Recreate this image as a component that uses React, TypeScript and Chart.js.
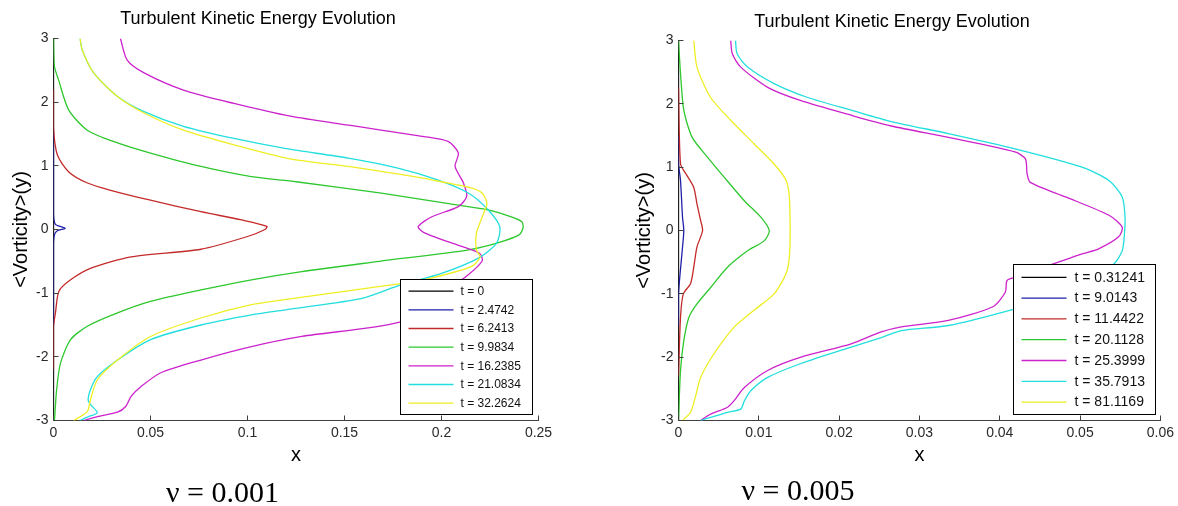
import React, { useEffect, useRef } from 'react';
import { Chart, registerables } from 'chart.js';

Chart.register(...registerables);
Chart.defaults.font.family = "'Liberation Sans', Arial, Helvetica, sans-serif";

type P = [number, number]; // [y, x]

// ---------- nu = 0.001 ----------
const nu001Times = ['0', '2.4742', '6.2413', '9.9834', '16.2385', '21.0834', '32.2624'];

const nu001_t0: P[] = [[3, 0], [-3, 0]];
const nu001_t2: P[] = [[1.5, 0], [0.25, 0], [0.08, 0.001], [0.02, 0.006], [-0.02, 0.002], [-0.08, 0.0005], [-0.25, 0], [-1.5, 0]];
const nu001_t6: P[] = [
  [2.2, 0], [1.6, 0], [1.17, 0.002], [0.9, 0.008], [0.73, 0.0175], [0.62, 0.029], [0.46, 0.05],
  [0.28, 0.076], [0.15, 0.097], [0.05, 0.11], [0, 0.109], [-0.11, 0.1], [-0.31, 0.076], [-0.43, 0.04],
  [-0.61, 0.019], [-0.79, 0.0088], [-0.97, 0.0028], [-1.31, 0.001], [-1.52, 0], [-2.2, 0],
];
const nu001_t9: P[] = [
  [3, 0], [2.56, 0.0005], [2.35, 0.0026], [1.88, 0.0078], [1.56, 0.0174], [1.36, 0.033], [1.2, 0.05],
  [0.99, 0.076], [0.83, 0.102], [0.75, 0.125], [0.57, 0.169], [0.39, 0.207], [0.31, 0.224], [0.2, 0.236],
  [0.12, 0.2415], [0.02, 0.242], [-0.085, 0.24], [-0.21, 0.229], [-0.32, 0.214], [-0.5, 0.168],
  [-0.66, 0.128], [-0.79, 0.102], [-0.95, 0.076], [-1.13, 0.05], [-1.31, 0.033], [-1.52, 0.0174],
  [-1.73, 0.0088], [-2.1, 0.0036], [-2.52, 0.0016], [-3, 0.0005],
];
const nu001_t16: P[] = [
  [3, 0.0345], [2.66, 0.038], [2.46, 0.0467], [2.19, 0.067], [1.98, 0.093], [1.78, 0.122], [1.64, 0.152],
  [1.46, 0.191], [1.38, 0.2036], [1.2, 0.2087], [0.99, 0.207], [0.73, 0.2113], [0.52, 0.213], [0.36, 0.2087],
  [0.2, 0.195], [0.045, 0.188], [-0.05, 0.191], [-0.2, 0.204], [-0.37, 0.2195], [-0.49, 0.221],
  [-0.73, 0.213], [-1.1, 0.196], [-1.45, 0.179], [-1.68, 0.128], [-1.84, 0.102], [-2.05, 0.076],
  [-2.25, 0.0553], [-2.47, 0.045], [-2.62, 0.04], [-2.78, 0.0372], [-2.87, 0.033], [-2.94, 0.0226], [-3, 0.0157],
];
const nu001_t21: P[] = [
  [3, 0.0137], [2.82, 0.0148], [2.46, 0.0207], [2.09, 0.033], [1.85, 0.0467], [1.62, 0.067], [1.43, 0.093],
  [1.27, 0.12], [1.12, 0.152], [0.96, 0.178], [0.78, 0.198], [0.57, 0.214], [0.31, 0.224], [0.045, 0.23],
  [-0.21, 0.2285], [-0.45, 0.219], [-0.69, 0.2], [-0.87, 0.179], [-1.08, 0.159], [-1.25, 0.122],
  [-1.34, 0.102], [-1.5, 0.076], [-1.73, 0.05], [-2.05, 0.033], [-2.31, 0.0226], [-2.52, 0.019],
  [-2.7, 0.018], [-2.88, 0.0226], [-2.94, 0.018], [-3, 0.0137],
];
const nu001_t32: P[] = [
  [3, 0.0137], [2.82, 0.0148], [2.46, 0.0207], [2.09, 0.033], [1.83, 0.0467], [1.56, 0.067], [1.33, 0.093],
  [1.11, 0.122], [0.99, 0.152], [0.83, 0.186], [0.75, 0.2], [0.65, 0.2156], [0.57, 0.221], [0.41, 0.2234],
  [0.2, 0.221], [-0.06, 0.218], [-0.32, 0.218], [-0.43, 0.2199], [-0.58, 0.2156], [-0.79, 0.191],
  [-0.87, 0.174], [-1.09, 0.122], [-1.18, 0.102], [-1.39, 0.076], [-1.68, 0.05], [-2.05, 0.033],
  [-2.36, 0.0226], [-2.68, 0.019], [-2.86, 0.0174], [-3, 0.0105],
];

// ---------- nu = 0.005 ----------
const nu005Times = ['0.31241', '9.0143', '11.4422', '20.1128', '25.3999', '35.7913', '81.1169'];

const nu005_t0: P[] = [[3, 0], [-3, 0]];
const nu005_t9: P[] = [[1.5, 0], [1.06, 0], [0.79, 0.00025], [0.21, 0.0005], [0, 0.00066], [-0.32, 0.00046], [-1.0, 0], [-1.5, 0]];
const nu005_t11: P[] = [
  [2.26, 0], [1.05, 0.00025], [0.9, 0.0009], [0.68, 0.0019], [0.42, 0.0023], [0.16, 0.00275], [0, 0.003],
  [-0.26, 0.0023], [-0.58, 0.0019], [-0.84, 0.0015], [-1.0, 0.0006], [-1.37, 0.00025], [-2.3, 0],
];
const nu005_t20: P[] = [
  [3, 0], [2.48, 0.00025], [1.9, 0.00066], [1.47, 0.0017], [1.16, 0.0036], [0.84, 0.0057], [0.47, 0.0082],
  [0.21, 0.01025], [0, 0.0113], [-0.16, 0.0107], [-0.32, 0.0086], [-0.58, 0.0061], [-0.9, 0.004],
  [-1.16, 0.0023], [-1.37, 0.0013], [-1.74, 0.00066], [-2.21, 0.00025], [-3, 0],
];
const nu005_t25: P[] = [
  [3, 0.0065], [2.79, 0.0067], [2.58, 0.00775], [2.26, 0.0111], [2.05, 0.01525], [1.82, 0.0215],
  [1.65, 0.0265], [1.47, 0.0336], [1.24, 0.0419], [1.13, 0.0432], [0.9, 0.0434], [0.76, 0.0438],
  [0.53, 0.0482], [0.24, 0.0536], [0.05, 0.05525], [-0.1, 0.0548], [-0.29, 0.0523], [-0.37, 0.05025],
  [-0.5, 0.0473], [-0.74, 0.0419], [-0.79, 0.0409], [-0.97, 0.0407], [-1.2, 0.0392], [-1.42, 0.0336],
  [-1.52, 0.02775], [-1.6, 0.02525], [-1.79, 0.0215], [-2.0, 0.01525], [-2.21, 0.0111], [-2.48, 0.0082],
  [-2.69, 0.0069], [-2.79, 0.0061], [-2.9, 0.004], [-3, 0.00275],
];
const nu005_t35: P[] = [
  [3, 0.0071], [2.79, 0.0073], [2.58, 0.0086], [2.32, 0.0119], [2.1, 0.0161], [1.9, 0.0215], [1.72, 0.0265],
  [1.53, 0.0336], [1.29, 0.0419], [1.0, 0.05025], [0.79, 0.0536], [0.53, 0.05525], [0.21, 0.0556],
  [-0.1, 0.0555], [-0.32, 0.05525], [-0.53, 0.0542], [-0.8, 0.051], [-1.05, 0.0465], [-1.24, 0.0418],
  [-1.5, 0.0336], [-1.58, 0.02775], [-1.69, 0.02525], [-1.84, 0.0215], [-2.1, 0.01525], [-2.32, 0.0111],
  [-2.53, 0.009], [-2.69, 0.0082], [-2.82, 0.00775], [-2.87, 0.0061], [-3, 0.00275],
];
const nu005_t81: P[] = [
  [3, 0.0019], [2.58, 0.0023], [2.1, 0.004], [1.74, 0.0065], [1.37, 0.0094], [1.05, 0.0119], [0.79, 0.0134],
  [0.53, 0.0138], [0, 0.0139], [-0.42, 0.0138], [-0.68, 0.0134], [-1.0, 0.0119], [-1.26, 0.0094],
  [-1.53, 0.0069], [-1.95, 0.0044], [-2.32, 0.00275], [-2.63, 0.0021], [-2.87, 0.0015], [-3, 0.0005],
];

const nu001Series = [nu001_t0, nu001_t2, nu001_t6, nu001_t9, nu001_t16, nu001_t21, nu001_t32];
const nu005Series = [nu005_t0, nu005_t9, nu005_t11, nu005_t20, nu005_t25, nu005_t35, nu005_t81];

const yTicks = [-3, -2, -1, 0, 1, 2, 3];

const seriesColors = ['#000000', '#1f1fa8', '#c42a2a', '#2ec82e', '#cc22cc', '#22dede', '#eeee22'];

const fmt = (v: number | string) => String(parseFloat(Number(v).toFixed(4)));

const inwardTicks = {
  id: 'inwardTicks',
  afterDatasetsDraw(chart: any, _a: any, o: any) {
    const ctx = chart.ctx;
    const { left, bottom } = chart.chartArea;
    const xs = chart.scales.x;
    const ys = chart.scales.y;
    ctx.save();
    ctx.strokeStyle = o.color;
    ctx.lineWidth = 1;
    ctx.beginPath();
    xs.ticks.forEach((t: any) => {
      const p = Math.floor(xs.getPixelForValue(t.value)) + 0.5;
      ctx.moveTo(p, bottom);
      ctx.lineTo(p, bottom - o.len);
    });
    ys.ticks.forEach((t: any) => {
      const p = Math.floor(ys.getPixelForValue(t.value)) + 0.5;
      ctx.moveTo(left, p);
      ctx.lineTo(left + o.len, p);
    });
    ctx.stroke();
    ctx.restore();
  },
};

const boxLegend = {
  id: 'boxLegend',
  afterDraw(chart: any, _a: any, o: any) {
    const ctx = chart.ctx;
    const ca = chart.chartArea;
    const ds = chart.data.datasets;
    ctx.save();
    ctx.font = `${o.fontSize}px 'Liberation Sans', Arial, sans-serif`;
    const tw = Math.max(...ds.map((d: any) => ctx.measureText(d.label).width));
    const w = Math.round(o.padL + o.lineLen + o.gap + tw + o.padR);
    const h = Math.round(ds.length * o.rowH + 2 * o.padV);
    const x0 = Math.round(ca.right - o.marginR - w) + 0.5;
    const y0 = Math.round(ca.bottom - o.marginB - h) + 0.5;
    ctx.fillStyle = '#ffffff';
    ctx.fillRect(x0, y0, w, h);
    ctx.strokeStyle = '#000000';
    ctx.lineWidth = 1;
    ctx.strokeRect(x0, y0, w, h);
    ds.forEach((d: any, i: number) => {
      const cy = y0 + o.padV + (i + 0.5) * o.rowH;
      ctx.strokeStyle = d.borderColor;
      ctx.lineWidth = 1.3;
      ctx.beginPath();
      ctx.moveTo(x0 + o.padL, cy);
      ctx.lineTo(x0 + o.padL + o.lineLen, cy);
      ctx.stroke();
      ctx.fillStyle = '#111111';
      ctx.textBaseline = 'middle';
      ctx.textAlign = 'left';
      ctx.fillText(d.label, x0 + o.padL + o.lineLen + o.gap, cy + 0.5);
    });
    ctx.restore();
  },
};

function buildChart(canvas: HTMLCanvasElement, series: P[][], times: string[], o: any) {
  return new Chart(canvas, {
    type: 'scatter',
    data: {
      datasets: series.map((s, i) => ({
        label: 't = ' + times[i],
        data: s.map(([y, x]) => ({ x, y })),
        showLine: true,
        borderColor: seriesColors[i],
        backgroundColor: seriesColors[i],
        borderWidth: 1.3,
        pointRadius: 0,
        pointHoverRadius: 0,
        tension: 0.25,
        order: -i,
      })),
    },
    options: {
      animation: false,
      responsive: false,
      events: [],
      layout: { padding: { top: o.padTop, right: o.padRight, bottom: 0, left: 0 } },
      scales: {
        x: {
          type: 'linear',
          position: 'bottom',
          min: 0,
          max: o.xMax,
          ticks: { stepSize: o.xStep, autoSkip: false, maxRotation: 0, padding: 4, color: '#2a2a2a', font: { size: 14 }, callback: (v: any) => fmt(v) },
          grid: { display: false, drawTicks: false },
          border: { display: true, color: '#404040', width: 1 },
          title: { display: true, text: 'x', color: '#000000', font: { size: 20 }, padding: { top: 0, bottom: 38.3 } },
          afterFit: (s: any) => { s.height = 85.5; },
        },
        y: {
          type: 'linear',
          position: 'left',
          min: yTicks[0],
          max: yTicks[yTicks.length - 1],
          afterBuildTicks: (s: any) => { s.ticks = yTicks.map((v) => ({ value: v })); },
          ticks: { autoSkip: false, padding: 5, color: '#2a2a2a', font: { size: 14 }, callback: (v: any) => fmt(v) },
          grid: { display: false, drawTicks: false },
          border: { display: true, color: '#404040', width: 1 },
          title: { display: true, text: '<Vorticity>(y)', color: '#000000', font: { size: 20 }, padding: { top: o.yTitlePad, bottom: 0 } },
          afterFit: (s: any) => { s.width = o.yWidth; },
        },
      },
      plugins: {
        legend: { display: false },
        tooltip: { enabled: false },
        title: { display: false },
        inwardTicks: { len: 5, color: '#404040' },
        boxLegend: o.legend,
      } as any,
    },
    plugins: [inwardTicks, boxLegend],
  } as any);
}

const sans = "'Liberation Sans', Arial, Helvetica, sans-serif";
const serif = "'Liberation Serif', 'Times New Roman', Times, serif";

export default function App() {
  const leftRef = useRef<HTMLCanvasElement | null>(null);
  const rightRef = useRef<HTMLCanvasElement | null>(null);

  useEffect(() => {
    const c1 = buildChart(leftRef.current!, nu001Series, nu001Times, {
      xMax: 0.25, xStep: 0.05, padTop: 38.5, padRight: 31.5, yWidth: 53.5, yTitlePad: 9,
      legend: { fontSize: 12, rowH: 18.67, padV: 2.3, padL: 8, lineLen: 45, gap: 7, padR: 12, marginR: 6.5, marginB: 6.5 },
    });
    const c2 = buildChart(rightRef.current!, nu005Series, nu005Times, {
      xMax: 0.06, xStep: 0.01, padTop: 40.5, padRight: 17.5, yWidth: 88.5, yTitlePad: 42,
      legend: { fontSize: 14, rowH: 20.8, padV: 2.4, padL: 8, lineLen: 45, gap: 8, padR: 11, marginR: 5.5, marginB: 6.5 },
    });
    return () => { c1.destroy(); c2.destroy(); };
  }, []);

  const textBase: React.CSSProperties = { position: 'absolute', whiteSpace: 'nowrap', textAlign: 'center', color: '#000' };

  return (
    <div style={{ position: 'fixed', left: 0, top: 0, width: 1178, height: 506, background: '#ffffff', overflow: 'hidden' }}>
      <canvas ref={leftRef} width={570} height={506} style={{ position: 'absolute', left: 0, top: 0, width: 570, height: 506 }} />
      <canvas ref={rightRef} width={588} height={506} style={{ position: 'absolute', left: 590, top: 0, width: 588, height: 506 }} />
      <div style={{ ...textBase, left: 108, width: 300, top: 9.3, fontFamily: sans, fontSize: 18, lineHeight: '18px' }}>
        Turbulent Kinetic Energy Evolution
      </div>
      <div style={{ ...textBase, left: 742, width: 300, top: 11.8, fontFamily: sans, fontSize: 18, lineHeight: '18px' }}>
        Turbulent Kinetic Energy Evolution
      </div>
      <div style={{ ...textBase, left: 122.5, width: 200, top: 476.6, fontFamily: serif, fontSize: 30, lineHeight: '30px' }}>
        ν = 0.001
      </div>
      <div style={{ ...textBase, left: 698, width: 200, top: 474.9, fontFamily: serif, fontSize: 30, lineHeight: '30px' }}>
        ν = 0.005
      </div>
    </div>
  );
}
